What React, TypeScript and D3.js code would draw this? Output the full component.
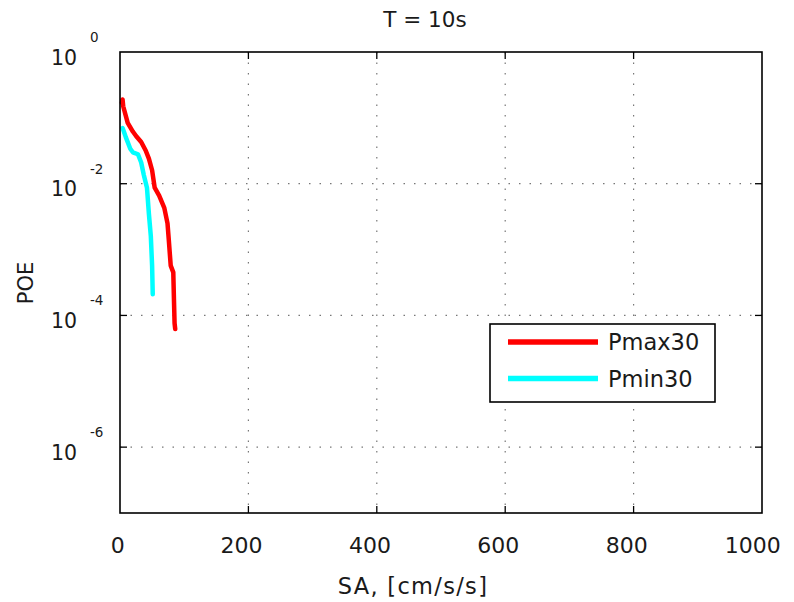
import React from "react";
import * as d3 from "d3";

const maxSA = [3, 4, 5, 12, 20, 25, 33, 40, 45, 50, 54, 61, 69, 74, 76, 79, 83, 84, 85, 86];
const maxPOE = [0.17, 0.19, 0.15, 0.084, 0.062, 0.053, 0.043, 0.032, 0.024, 0.016, 0.0087, 0.0066, 0.0043, 0.0025, 0.0014, 0.00057, 0.00045, 0.00018, 0.000076, 0.000062];
const minSA = [4, 6, 9, 16, 20, 28, 33, 37, 42, 45, 48, 50, 51];
const minPOE = [0.07, 0.062, 0.051, 0.034, 0.03, 0.028, 0.021, 0.0137, 0.0087, 0.0035, 0.0016, 0.00057, 0.00021];
const xTicks = [0, 200, 400, 600, 800, 1000];
const yTickExps = [0, -2, -4, -6];
const seriesNames = ["Pmax30", "Pmin30"];
const seriesColors = ["#ff0000", "#00ffff"];

export default function App() {
  const W = 794, H = 602;
  const L = 120, R = 762, T = 52, B = 513;
  const x = d3.scaleLinear().domain([0, 1000]).range([L, R]);
  const y = d3.scaleLog().domain([1, 1e-7]).range([T, B]);
  const line = d3.line<[number, number]>().x(d => x(d[0])).y(d => y(d[1]));
  const maxData: [number, number][] = maxSA.map((v, i) => [v, maxPOE[i]]);
  const minData: [number, number][] = minSA.map((v, i) => [v, minPOE[i]]);
  const font = "DejaVu Sans, Verdana, sans-serif";
  const txt = "#1a1a1a";
  return (
    <svg width={W} height={H} style={{ position: "absolute", left: 0, top: 0, background: "#fff" }} fontFamily={font}>
      <rect x={0} y={0} width={W} height={H} fill="#fff" />
      {/* grid */}
      {xTicks.slice(1, -1).map(t => (
        <line key={"gx" + t} x1={x(t)} x2={x(t)} y1={T} y2={B} stroke="#777" strokeWidth={1.2} strokeDasharray="1.5,9" />
      ))}
      {yTickExps.slice(1).map(e => (
        <line key={"gy" + e} x1={L} x2={R} y1={y(Math.pow(10, e))} y2={y(Math.pow(10, e))} stroke="#777" strokeWidth={1.2} strokeDasharray="1.5,9" />
      ))}
      {/* ticks */}
      {xTicks.slice(1, -1).map(t => (
        <g key={"tx" + t}>
          <line x1={x(t)} x2={x(t)} y1={B} y2={B - 7} stroke="#000" strokeWidth={1.3} />
          <line x1={x(t)} x2={x(t)} y1={T} y2={T + 7} stroke="#000" strokeWidth={1.3} />
        </g>
      ))}
      {yTickExps.slice(1).map(e => (
        <g key={"ty" + e}>
          <line x1={L} x2={L + 7} y1={y(Math.pow(10, e))} y2={y(Math.pow(10, e))} stroke="#000" strokeWidth={1.3} />
          <line x1={R} x2={R - 7} y1={y(Math.pow(10, e))} y2={y(Math.pow(10, e))} stroke="#000" strokeWidth={1.3} />
        </g>
      ))}
      {/* series */}
      <path d={line(maxData) || ""} fill="none" stroke={seriesColors[0]} strokeWidth={4.5} strokeLinejoin="round" strokeLinecap="round" />
      <path d={line(minData) || ""} fill="none" stroke={seriesColors[1]} strokeWidth={4.5} strokeLinejoin="round" strokeLinecap="round" />
      {/* frame */}
      <rect x={L} y={T} width={R - L} height={B - T} fill="none" stroke="#000" strokeWidth={1.6} />
      {/* x tick labels */}
      {xTicks.map(t => (
        <text key={"lx" + t} x={x(t) - 2.3 * String(t).length} y={553} textAnchor="middle" fontSize={22} fill={txt}>{t}</text>
      ))}
      {/* y tick labels */}
      {yTickExps.map(e => (
        <g key={"ly" + e}>
          <text x={77} y={y(Math.pow(10, e)) + 12.5} textAnchor="end" fontSize={20.5} fill={txt}>10</text>
          <text x={90} y={y(Math.pow(10, e)) - 10} textAnchor="start" fontSize={13.5} fill={txt}>{e}</text>
        </g>
      ))}
      {/* title & labels */}
      <text x={425} y={27} textAnchor="middle" fontSize={21.5} fill={txt}>T = 10s</text>
      <text x={413} y={594} textAnchor="middle" fontSize={22.5} letterSpacing={1.3} fill={txt}>SA, [cm/s/s]</text>
      <text transform={`translate(33,283) rotate(-90)`} textAnchor="middle" fontSize={21} fill={txt}>POE</text>
      {/* legend */}
      <rect x={490} y={324} width={225} height={78} fill="#fff" stroke="#000" strokeWidth={1.6} />
      {seriesNames.map((n, i) => (
        <g key={n}>
          <line x1={508} x2={598} y1={342 + i * 36.5} y2={342 + i * 36.5} stroke={seriesColors[i]} strokeWidth={5.5} />
          <text x={608} y={350 + i * 37} fontSize={22.5} fill={txt}>{n}</text>
        </g>
      ))}
    </svg>
  );
}
